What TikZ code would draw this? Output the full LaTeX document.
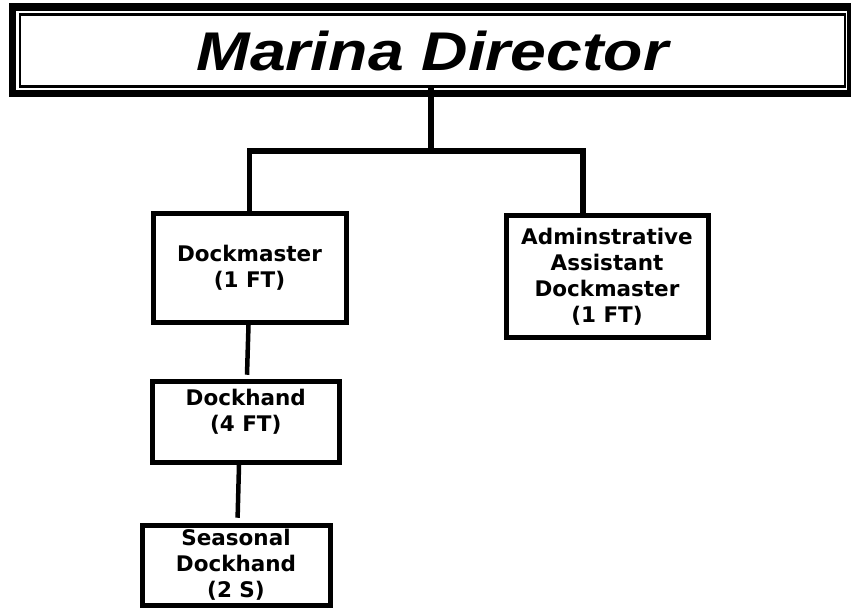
\documentclass[tikz,border=0pt]{standalone}
\usepackage{fontspec}
\newfontfamily\titlefont{Liberation Sans}
\newfontfamily\boxfont{DejaVu Sans}
\begin{document}
\begin{tikzpicture}[x=1pt,y=-1pt,
  box/.style={draw, line width=5pt, inner sep=0pt, align=center,
    font=\boxfont\bfseries\fontsize{21.5}{26}\selectfont,
    text depth=3pt},
  titlebox/.style={draw, line width=2.5pt, inner sep=0pt,
    text height=39pt, text depth=0pt,
    font=\titlefont\bfseries\itshape\fontsize{54.5}{60}\selectfont},
  frame/.style={line width=7.5pt},
  trunk/.style={line width=5.5pt, line join=miter},
  conn/.style={line width=4.5pt}]
\useasboundingbox (0,0) rectangle (851,609);
\fill[white] (0,0) rectangle (851,609);
% title box with double border
\draw[frame] (12.7,6.8) rectangle (850.7,93.3);
\node[titlebox, minimum width=825.2pt, minimum height=72.2pt] (dir) at (432.4,50.6)
  {\scalebox{1.18}[1]{Marina Director}};
% boxes
\node[box, minimum width=193pt, minimum height=108.5pt, text height=42pt] (dm) at (249.5,268.25)
  {Dockmaster\\(1 FT)};
\node[box, minimum width=202pt, minimum height=122pt, text height=94pt] (adm) at (607,277)
  {Adminstrative\\Assistant\\Dockmaster\\(1 FT)};
\node[box, minimum width=186.5pt, minimum height=81.5pt, text height=42pt, text depth=23pt] (dh) at (245.75,421.75)
  {Dockhand\\(4 FT)};
\node[box, minimum width=188pt, minimum height=80pt, text height=68pt] (sd) at (236,565)
  {Seasonal\\Dockhand\\(2 S)};
% connectors
\coordinate (j) at (431,151);
\coordinate (aj) at (583,151);
\draw[trunk] (dir.south -| j) -- (j);
\draw[trunk] (dm.north) -- (dm.north |- j) -- (aj) -- (aj |- adm.north);
\draw[conn] ([xshift=-1pt]dm.south) -- ([xshift=1.25pt,yshift=3.75pt]dh.north);
\draw[conn] ([xshift=-6.75pt]dh.south) -- ([xshift=1.6pt,yshift=4.75pt]sd.north);
\end{tikzpicture}
\end{document}
